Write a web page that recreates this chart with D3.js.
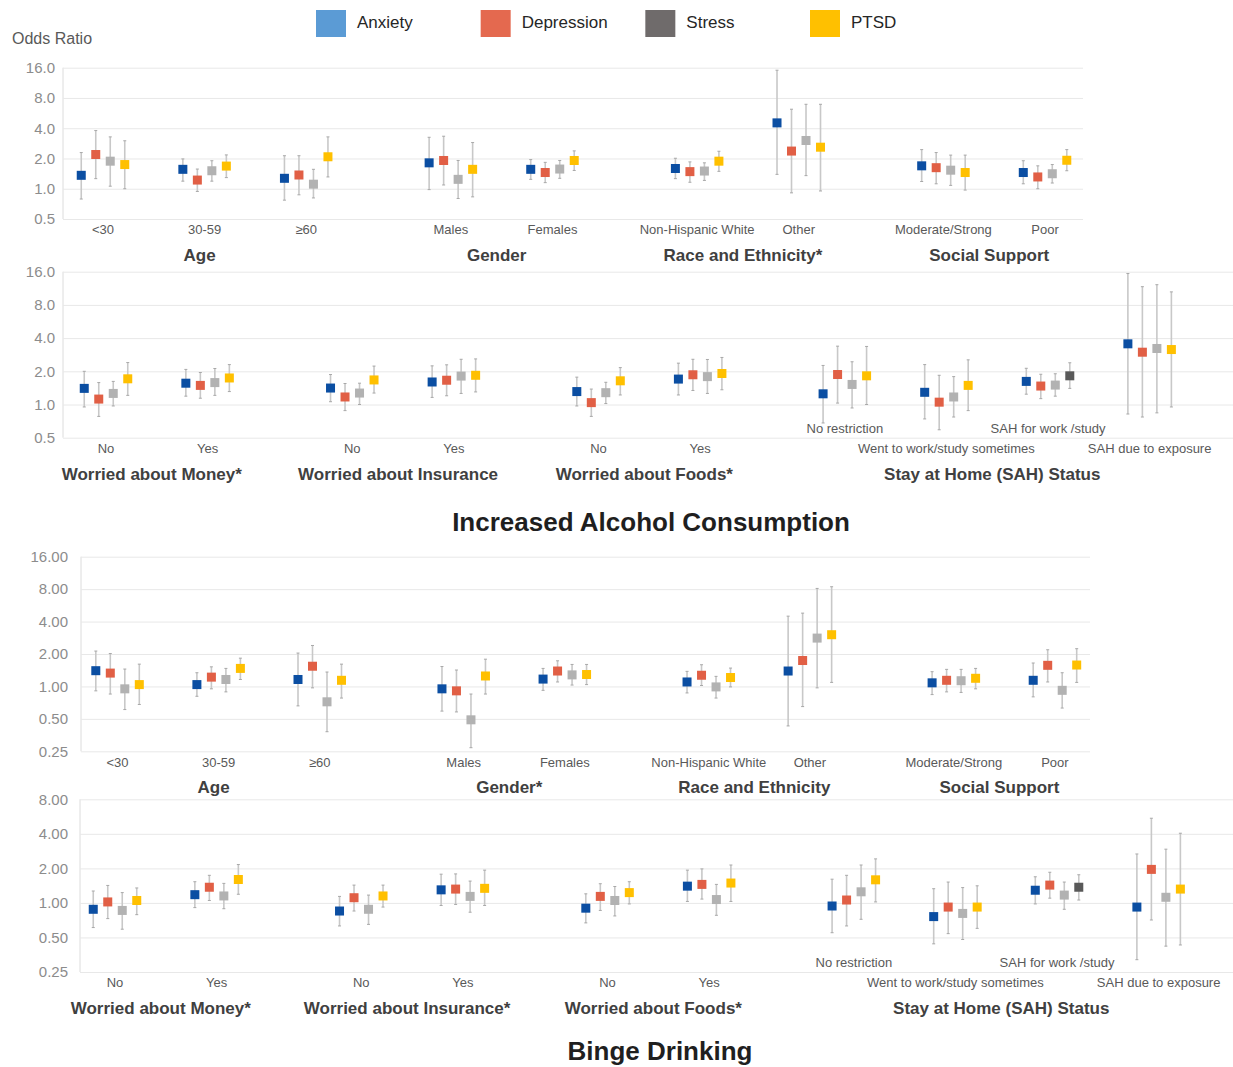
<!DOCTYPE html>
<html>
<head>
<meta charset="utf-8">
<script src="https://cdn.jsdelivr.net/npm/d3@7"></script>
<style>
  body { margin: 0; background: #fff; }
  svg { font-family: 'Liberation Sans', Arial, sans-serif; }
</style>
</head>
<body>
<svg id="chart" width="1233" height="1067"></svg>
<script>
const seriesNames = ['Anxiety', 'Depression', 'Stress', 'PTSD'];

const demoCategories = [['<30', '30-59', '≥60'], ['Males', 'Females'], ['Non-Hispanic White', 'Other'], ['Moderate/Strong', 'Poor']];
const worryCategories = [['No', 'Yes'], ['No', 'Yes'], ['No', 'Yes'],
  ['No restriction', 'Went to work/study sometimes', 'SAH for work /study', 'SAH due to exposure']];

const alcDemoGroups = ['Age', 'Gender', 'Race and Ethnicity*', 'Social Support'];
const alcWorryGroups = ['Worried about Money*', 'Worried about Insurance', 'Worried about Foods*', 'Stay at Home (SAH) Status'];
const bingeDemoGroups = ['Age', 'Gender*', 'Race and Ethnicity', 'Social Support'];
const bingeWorryGroups = ['Worried about Money*', 'Worried about Insurance*', 'Worried about Foods*', 'Stay at Home (SAH) Status'];

const tickValues = [0.25, 0.5, 1, 2, 4, 8, 16];

// each point: [odds ratio, lower CI, upper CI]
const alcDemoAnxiety = [[1.36,0.79,2.29],[1.56,1.19,1.98],[1.27,0.77,2.13],[1.81,0.98,3.25],[1.56,1.24,1.95],[1.59,1.26,2.01],[4.52,1.39,15.1],[1.69,1.18,2.45],[1.45,1.12,1.90]];
const alcDemoDepression = [[2.19,1.26,3.79],[1.22,0.94,1.57],[1.37,0.87,2.13],[1.91,1.09,3.33],[1.45,1.15,1.83],[1.48,1.16,1.85],[2.37,0.91,6.18],[1.62,1.12,2.29],[1.31,1.00,1.69]];
const alcDemoStress = [[1.88,1.06,3.28],[1.51,1.19,1.90],[1.11,0.81,1.56],[1.24,0.80,1.91],[1.57,1.27,1.91],[1.50,1.21,1.81],[3.02,1.35,6.92],[1.53,1.08,2.16],[1.41,1.14,1.74]];
const alcDemoPTSD = [[1.74,1.00,3.00],[1.68,1.29,2.17],[2.08,1.31,3.28],[1.56,0.83,2.88],[1.91,1.52,2.38],[1.88,1.49,2.36],[2.59,0.95,6.92],[1.45,0.97,2.16],[1.92,1.51,2.45]];

const alcWorryAnxiety = [[1.40,0.95,2.00],[1.56,1.19,2.08],[1.41,1.06,1.87],[1.60,1.16,2.24],[1.31,0.97,1.77],[1.70,1.22,2.37],[1.25,0.68,2.26],[1.29,0.74,2.30],[1.62,1.24,2.13],[3.55,0.82,15.4]];
const alcWorryDepression = [[1.12,0.78,1.58],[1.49,1.14,1.95],[1.17,0.88,1.55],[1.66,1.20,2.29],[1.04,0.78,1.38],[1.86,1.34,2.57],[1.87,1.03,3.38],[1.05,0.59,1.84],[1.47,1.13,1.88],[2.98,0.77,11.7]];
const alcWorryStress = [[1.26,0.97,1.62],[1.58,1.21,2.12],[1.27,1.00,1.56],[1.81,1.26,2.57],[1.28,1.02,1.59],[1.79,1.26,2.56],[1.52,0.93,2.44],[1.17,0.77,1.79],[1.50,1.19,1.90],[3.22,0.84,12.2]];
const alcWorryPTSD = [[1.71,1.21,2.40],[1.74,1.31,2.30],[1.67,1.27,2.23],[1.84,1.30,2.59],[1.64,1.22,2.16],[1.91,1.36,2.67],[1.82,1.00,3.36],[1.49,0.88,2.54],[1.82,1.40,2.39],[3.15,0.95,10.5]];

const bingeDemoAnxiety = [[1.40,0.91,2.13],[1.04,0.81,1.34],[1.16,0.66,2.04],[0.95,0.59,1.53],[1.17,0.92,1.47],[1.10,0.87,1.38],[1.39,0.43,4.49],[1.08,0.84,1.37],[1.14,0.80,1.65]];
const bingeDemoDepression = [[1.33,0.85,2.02],[1.22,0.95,1.52],[1.54,0.97,2.40],[0.91,0.58,1.42],[1.39,1.10,1.73],[1.27,1.02,1.59],[1.74,0.65,4.79],[1.14,0.89,1.44],[1.57,1.10,2.19]];
const bingeDemoStress = [[0.95,0.61,1.45],[1.16,0.89,1.47],[0.72,0.38,1.36],[0.49,0.27,0.85],[1.28,1.03,1.60],[0.99,0.78,1.24],[2.81,0.97,8.12],[1.13,0.88,1.44],[0.92,0.63,1.34]];
const bingeDemoPTSD = [[1.04,0.68,1.61],[1.47,1.16,1.83],[1.14,0.78,1.61],[1.25,0.85,1.79],[1.29,1.04,1.60],[1.21,0.99,1.48],[3.02,1.09,8.42],[1.19,0.95,1.47],[1.58,1.09,2.24]];

const bingeWorryAnxiety = [[0.88,0.61,1.27],[1.18,0.91,1.53],[0.85,0.63,1.14],[1.30,0.95,1.78],[0.90,0.67,1.20],[1.40,1.03,1.93],[0.94,0.55,1.61],[0.76,0.44,1.33],[1.29,0.98,1.69],[0.92,0.32,2.67]];
const bingeWorryDepression = [[1.02,0.73,1.42],[1.37,1.05,1.74],[1.11,0.85,1.43],[1.32,0.97,1.79],[1.14,0.86,1.47],[1.45,1.08,1.98],[1.06,0.63,1.74],[0.92,0.54,1.52],[1.43,1.10,1.85],[1.96,0.71,5.47]];
const bingeWorryStress = [[0.86,0.59,1.23],[1.15,0.89,1.48],[0.88,0.65,1.17],[1.14,0.83,1.55],[1.05,0.77,1.39],[1.07,0.78,1.45],[1.25,0.72,2.14],[0.81,0.48,1.36],[1.17,0.88,1.52],[1.12,0.42,2.94]];
const bingeWorryPTSD = [[1.05,0.79,1.35],[1.60,1.19,2.16],[1.15,0.92,1.43],[1.34,0.95,1.93],[1.23,0.98,1.53],[1.49,1.03,2.14],[1.59,1.02,2.42],[0.92,0.60,1.41],[1.37,1.06,1.76],[1.32,0.43,4.05]];

const sectionTitles = ['Increased Alcohol Consumption', 'Binge Drinking'];

// styling
const markerColor = { Anxiety: '#0b4ea2', Depression: '#e15f45', Stress: '#b2b2b2', PTSD: '#ffc000' };
const legendColor = { Anxiety: '#5b9bd5', Depression: '#e4694f', Stress: '#6f6b6b', PTSD: '#ffc000' };
const oddMarker = { category: 'SAH for work /study', series: 'PTSD', color: '#595959' };
const gapRatio = 0.424;

const panels = [
  { groups: alcDemoGroups, cats: demoCategories, fmt: '.1f', domain: [0.5, 16],
    values: [alcDemoAnxiety, alcDemoDepression, alcDemoStress, alcDemoPTSD],
    top: 67.7, bottom: 219, axisX: 63, labelRight: 55, gridRight: 1083, slotLeft: 52.2, slotW: 101.6, stagger: false },
  { groups: alcWorryGroups, cats: worryCategories, fmt: '.1f', domain: [0.5, 16],
    values: [alcWorryAnxiety, alcWorryDepression, alcWorryStress, alcWorryPTSD],
    top: 271.7, bottom: 437.7, axisX: 63, labelRight: 55, gridRight: 1233, slotLeft: 55.2, slotW: 101.6, stagger: true },
  { groups: bingeDemoGroups, cats: demoCategories, fmt: '.2f', domain: [0.25, 16],
    values: [bingeDemoAnxiety, bingeDemoDepression, bingeDemoStress, bingeDemoPTSD],
    top: 556.7, bottom: 751.3, axisX: 81, labelRight: 68, gridRight: 1090, slotLeft: 67, slotW: 101.1, stagger: false },
  { groups: bingeWorryGroups, cats: worryCategories, fmt: '.2f', domain: [0.25, 8],
    values: [bingeWorryAnxiety, bingeWorryDepression, bingeWorryStress, bingeWorryPTSD],
    top: 799.3, bottom: 972, axisX: 80, labelRight: 68, gridRight: 1233, slotLeft: 64.2, slotW: 101.6, stagger: true }
];

const svg = d3.select('#chart');

// legend + y title
const legendX = d3.scalePoint().domain(seriesNames).range([316, 810]);
const legend = svg.append('g').attr('class', 'legend');
seriesNames.forEach(name => {
  legend.append('rect')
    .attr('x', legendX(name)).attr('y', 10)
    .attr('width', 30).attr('height', 27)
    .attr('fill', legendColor[name]);
  legend.append('text')
    .attr('x', legendX(name) + 41).attr('y', 24)
    .attr('dominant-baseline', 'middle')
    .attr('font-size', 17).attr('fill', '#262626')
    .text(name);
});

svg.append('text')
  .attr('x', 12).attr('y', 40)
  .attr('dominant-baseline', 'middle')
  .attr('font-size', 16).attr('fill', '#595959')
  .text('Odds Ratio');

const offset = d3.scalePoint().domain(seriesNames).range([-21.75, 21.75]);

panels.forEach(p => {
  const g = svg.append('g').attr('class', 'panel');

  const y = d3.scaleLog().base(2).domain(p.domain).range([p.bottom, p.top]);

  // flatten the category blocks into slots; blocks are separated by a gap
  const slots = [];
  p.cats.forEach((list, gi) => list.forEach((name, ci) => slots.push({ group: gi, idx: ci, name: name })));
  const units = slots.length + (p.cats.length - 1) * gapRatio;
  const x = d3.scaleLinear().domain([0, units]).range([p.slotLeft, p.slotLeft + units * p.slotW]);
  slots.forEach((s, i) => { s.cx = x(i + 0.5 + s.group * gapRatio); });

  const axis = d3.axisLeft(y)
    .tickValues(tickValues.filter(v => v >= p.domain[0] && v <= p.domain[1]))
    .tickFormat(d3.format(p.fmt))
    .tickSize(-(p.gridRight - p.axisX))
    .tickPadding(p.axisX - p.labelRight);

  const ax = g.append('g')
    .attr('transform', 'translate(' + p.axisX + ',0)')
    .call(axis);
  ax.select('.domain').attr('stroke', '#dcdcdc').attr('d', 'M0,' + p.top + 'V' + p.bottom);
  ax.selectAll('.tick line').attr('stroke', '#e8e8e8');
  ax.selectAll('.tick text')
    .attr('font-size', 15).attr('fill', '#8c8c8c')
    .attr('font-family', "'Liberation Sans', Arial, sans-serif");

  // error bars and markers
  seriesNames.forEach((name, si) => {
    const pts = p.values[si].map((v, i) => ({ or: v[0], lo: v[1], hi: v[2], slot: slots[i] }));
    const s = g.append('g').attr('class', 'series');

    s.selectAll('line.err')
      .data(pts).enter().append('line')
      .attr('class', 'err')
      .attr('x1', d => d.slot.cx + offset(name)).attr('x2', d => d.slot.cx + offset(name))
      .attr('y1', d => y(d.lo)).attr('y2', d => y(d.hi))
      .attr('stroke', '#c8c8c8').attr('stroke-width', 1.6);

    ['lo', 'hi'].forEach(k => {
      s.selectAll('line.cap-' + k)
        .data(pts).enter().append('line')
        .attr('class', 'cap-' + k)
        .attr('x1', d => d.slot.cx + offset(name) - 1.5).attr('x2', d => d.slot.cx + offset(name) + 1.5)
        .attr('y1', d => y(d[k])).attr('y2', d => y(d[k]))
        .attr('stroke', '#a8a8a8').attr('stroke-width', 1);
    });

    s.selectAll('rect')
      .data(pts).enter().append('rect')
      .attr('x', d => d.slot.cx + offset(name) - 4.5)
      .attr('y', d => y(d.or) - 4.5)
      .attr('width', 9).attr('height', 9)
      .attr('fill', d => (d.slot.name === oddMarker.category && name === oddMarker.series) ? oddMarker.color : markerColor[name]);
  });

  // category labels (SAH block alternates rows)
  g.selectAll('text.cat')
    .data(slots).enter().append('text')
    .attr('class', 'cat')
    .attr('x', d => d.cx)
    .attr('y', d => (p.stagger && d.group === 3 && d.idx % 2 === 0) ? p.bottom - 8 : p.bottom + 12)
    .attr('text-anchor', 'middle').attr('dominant-baseline', 'middle')
    .attr('font-size', 13).attr('fill', '#595959')
    .text(d => d.name);

  // block titles, nudged a little left of the block centre as in the source
  g.selectAll('text.group')
    .data(p.groups).enter().append('text')
    .attr('class', 'group')
    .attr('x', (d, gi) => d3.mean(slots.filter(s => s.group === gi), s => s.cx) - 5)
    .attr('y', p.bottom + 37.5)
    .attr('text-anchor', 'middle').attr('dominant-baseline', 'middle')
    .attr('font-size', 17).attr('font-weight', 'bold').attr('fill', '#404040')
    .text(d => d);
});

svg.append('text')
  .attr('x', 651).attr('y', 524)
  .attr('text-anchor', 'middle').attr('dominant-baseline', 'middle')
  .attr('font-size', 26).attr('font-weight', 'bold').attr('fill', '#1f1f1f')
  .text(sectionTitles[0]);

svg.append('text')
  .attr('x', 660).attr('y', 1053)
  .attr('text-anchor', 'middle').attr('dominant-baseline', 'middle')
  .attr('font-size', 26).attr('font-weight', 'bold').attr('fill', '#1f1f1f')
  .text(sectionTitles[1]);
</script>
</body>
</html>
